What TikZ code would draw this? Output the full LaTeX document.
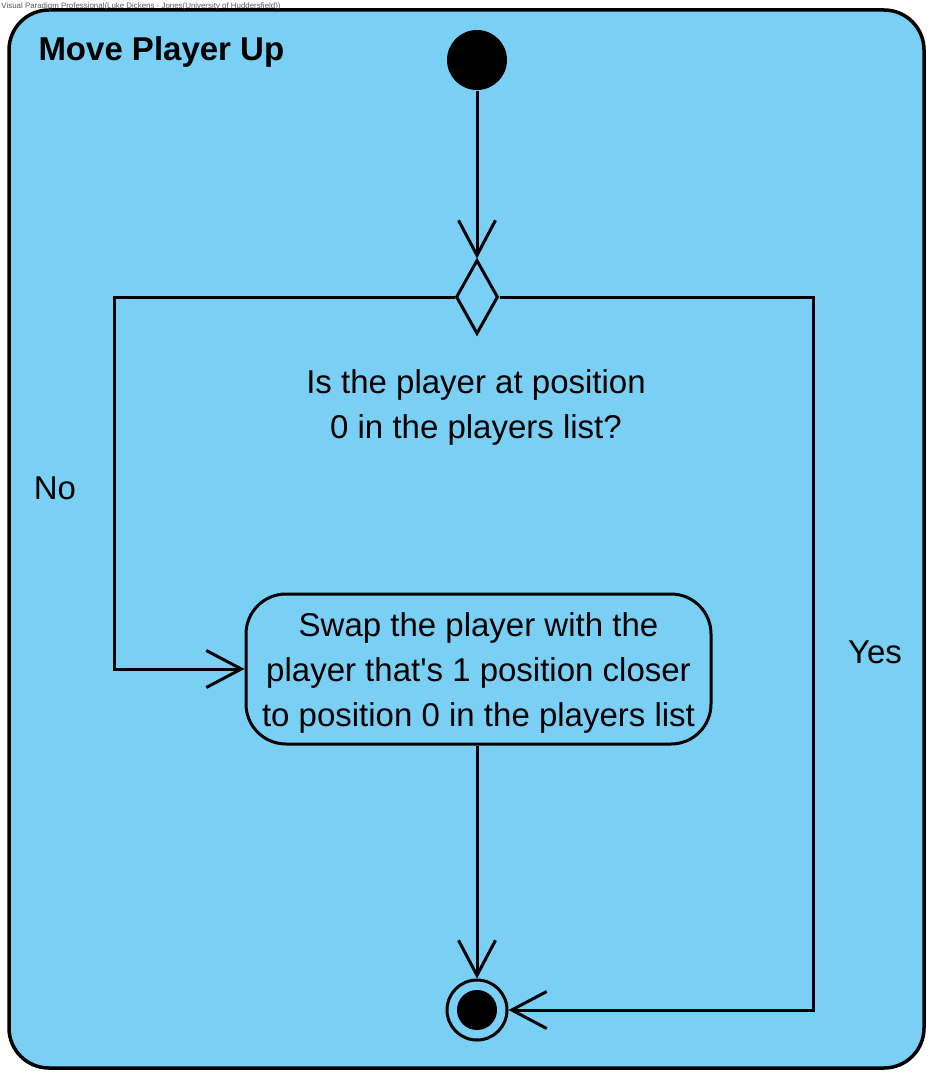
\documentclass[tikz,border=0pt]{standalone}
\usepackage{fontspec}
\setmainfont{Liberation Sans}[Ligatures=TeXOff]
\usetikzlibrary{arrows.meta,shapes.geometric}
\definecolor{vpblue}{RGB}{122,207,245}
\begin{document}
\begin{tikzpicture}[x=1pt,y=-1pt,
  line width=3pt,
  flow/.style={line width=3pt,-{Straight Barb[length=35pt,width=37pt,line width=3pt]}},
  txt/.style={font=\fontsize{33}{45}\selectfont, align=center, inner sep=0pt},
  initnode/.style={circle, fill=black, draw=none, minimum size=60pt, inner sep=0pt},
  decnode/.style={diamond, draw, fill=vpblue, minimum width=42pt, minimum height=74pt, inner sep=0pt},
  actnode/.style={draw, rounded corners=40pt, fill=vpblue, minimum width=465pt, minimum height=150pt, inner sep=0pt},
  finalouter/.style={circle, draw, minimum size=60pt, inner sep=0pt},
  finalinner/.style={circle, fill=black, minimum size=40pt, inner sep=0pt}]
\useasboundingbox (0,0) rectangle (945,1083);
\fill[white] (0,0) rectangle (945,1083);
\draw[line width=3.5pt, fill=vpblue, rounded corners=40pt] (9,10) rectangle (924,1068);
\node[anchor=west, inner sep=0pt, text=black!65, font=\fontsize{7.9}{9}\selectfont] (wm) at (0,6) {Visual Paradigm Professional(Luke Dickens - Jones(University of Huddersfield))};
\node[anchor=base west, inner sep=0pt, font=\bfseries\fontsize{33}{40}\selectfont] (title) at (37,61) {Move Player Up};
\node[initnode] (start) at (477,60) {};
\node[decnode] (dec) at (477,297) {};
\node[actnode] (act) at (478.5,669) {};
\node[txt] (actlbl) at (478.5,673) {Swap the player with the\\player that's 1 position closer\\to position 0 in the players list};
\node[finalouter] (final) at (477,1010) {};
\node[finalinner] (finalin) at (477,1010) {};
\node[txt] (q) at (476,407) {Is the player at position\\0 in the players list?};
\node[txt] (no) at (55,488) {No};
\node[txt] (yes) at (875,652) {Yes};
\coordinate (lc) at (114,297);
\coordinate (rc) at (813,297);
\draw[flow] (start) -- (dec.north);
\draw[flow] (dec.west) -- (lc) |- (act.west);
\draw[flow] (dec.east) -- (rc) |- (final.east);
\draw[flow] (act.south -| final.north) -- (final.north);
\end{tikzpicture}
\end{document}
